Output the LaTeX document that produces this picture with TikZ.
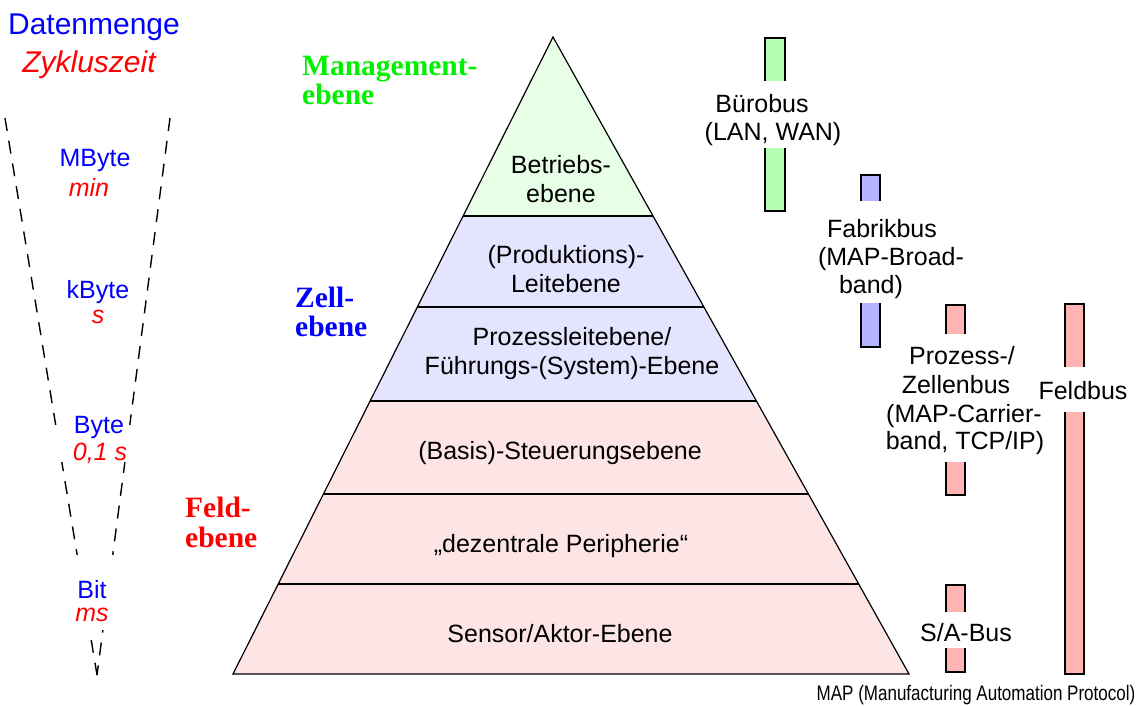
\documentclass[tikz,border=0pt]{standalone}
\usepackage{fontspec}
\setmainfont{Liberation Sans}
\newfontfamily\serifbold{Liberation Serif}
\newfontfamily\narrowsans[FakeStretch=0.81]{Liberation Sans}
\usetikzlibrary{calc}

\definecolor{lvlgreen}{RGB}{0,240,0}
\definecolor{fillG}{RGB}{230,255,230}
\definecolor{fillB}{RGB}{228,228,255}
\definecolor{fillP}{RGB}{253,229,229}
\definecolor{barG}{RGB}{180,255,180}
\definecolor{barB}{RGB}{180,180,255}
\definecolor{barP}{RGB}{255,180,180}

\begin{document}
\begin{tikzpicture}[x=1pt,y=-1pt,
  txt/.style={font=\fontsize{25}{29}\selectfont, inner sep=0pt, anchor=base},
  ptxt/.style={font=\fontsize{25}{29}\selectfont, inner sep=0pt, align=center},
  qty/.style={txt, text=blue},
  tim/.style={txt, text=red, font=\fontsize{25}{29}\selectfont\itshape},
  lvl/.style={inner sep=0pt, anchor=base west, font=\fontsize{29.5}{30}\selectfont\serifbold\bfseries},
  wedge/.style={line width=1.4pt, dash pattern=on 13pt off 10pt},
  mask/.style={fill=white},
  bar/.style={draw=black, line width=1.8pt, fill=#1},
  edge/.style={line width=1.2pt, line join=miter},
  sepline/.style={line width=1.8pt}
]
\useasboundingbox (0,0) rectangle (1142,705);

% ---------- data volume / cycle time wedge ----------
\coordinate (wl) at (5,118);
\coordinate (wr) at (170,118);
\coordinate (wt) at (97,675);
\draw[wedge] (wl) -- (wt);
\draw[wedge] (wr) -- (wt);
\fill[mask] (54,425) rectangle (133,462);
\fill[mask] (68,555) rectangle (122,630);

\node[txt, text=blue, font=\fontsize{30}{34}\selectfont] (dm) at (94,34) {Datenmenge};
\node[txt, text=red, font=\fontsize{30}{34}\selectfont\itshape] (zz) at (89,72) {Zykluszeit};
\node[qty] (q1) at (95,166) {MByte};
\node[tim] (t1) at (89,196) {min};
\node[qty] (q2) at (98,298) {kByte};
\node[tim] (t2) at (98,323) {s};
\node[qty] (q3) at (99,433) {Byte};
\node[tim] (t3) at (100,460) {0,1 s};
\node[qty] (q4) at (92,598) {Bit};
\node[tim] (t4) at (92,621) {ms};

% ---------- level labels ----------
\node[lvl, text=lvlgreen] (m1) at (302,75) {Management-};
\node[lvl, text=lvlgreen] (m2) at (302,104) {ebene};
\node[lvl, text=blue] (z1) at (295,307) {Zell-};
\node[lvl, text=blue] (z2) at (295,336) {ebene};
\node[lvl, text=red] (f1) at (185,517) {Feld-};
\node[lvl, text=red] (f2) at (185,547) {ebene};

% ---------- pyramid ----------
\coordinate (apex) at (553,37);
\coordinate (bl) at (233,674);
\coordinate (br) at (909,674);
\foreach \n/\t in {1/0.2810,2/0.4239,3/0.5714,4/0.7174,5/0.8587} {
  \coordinate (L\n) at ($(apex)!\t!(bl)$);
  \coordinate (R\n) at ($(apex)!\t!(br)$);
}
\fill[fillG] (apex) -- (R1) -- (L1) -- cycle;
\fill[fillB] (L1) -- (R1) -- (R3) -- (L3) -- cycle;
\fill[fillP] (L3) -- (R3) -- (br) -- (bl) -- cycle;
\foreach \n in {1,...,5} { \draw[sepline] (L\n) -- (R\n); }
\draw[edge] (apex) -- (br) -- (bl) -- cycle;

\node[ptxt] (p1) at (561,179) {Betriebs-\\ebene};
\node[ptxt] (p2) at (566,269) {(Produktions)-\\Leitebene};
\node[ptxt] (p3) at (572,354) {Prozessleitebene/\\Führungs-(System)-Ebene};
\node[ptxt] (p4) at (560,453) {(Basis)-Steuerungsebene};
\node[ptxt] (p5) at (561,546) {„dezentrale Peripherie“};
\node[ptxt] (p6) at (560,634) {Sensor/Aktor-Ebene};

% ---------- bus bars ----------
\draw[bar=barG] (765,38) rectangle (785,211);
\fill[mask] (758,81) rectangle (792,148);
\draw[bar=barB] (861,175) rectangle (880,347);
\fill[mask] (854,201) rectangle (887,303);
\draw[bar=barP] (946,305) rectangle (965,495);
\fill[mask] (939,334) rectangle (972,462);
\draw[bar=barP] (946,585) rectangle (965,672);
\fill[mask] (939,612) rectangle (972,648);
\draw[bar=barP] (1065,304) rectangle (1084,674);
\fill[mask] (1058,367) rectangle (1091,412);

\node[txt] (b1) at (762,112) {Bürobus};
\node[txt] (b2) at (773,140) {(LAN, WAN)};
\node[txt] (fb1) at (882,237) {Fabrikbus};
\node[txt] (fb2) at (891,265) {(MAP-Broad-};
\node[txt] (fb3) at (871,293) {band)};
\node[txt] (pz1) at (962,364) {Prozess-/};
\node[txt] (pz2) at (956,393) {Zellenbus};
\node[txt] (pz3) at (964,422) {(MAP-Carrier-};
\node[txt] (pz4) at (965,449) {band, TCP/IP)};
\node[txt] (sa) at (966,641) {S/A-Bus};
\node[txt] (fd) at (1083,399) {Feldbus};

% ---------- footnote ----------
\node[inner sep=0pt, anchor=base, font=\fontsize{21}{24}\selectfont\narrowsans] (note) at (976,700) {MAP (Manufacturing Automation Protocol)};
\end{tikzpicture}
\end{document}
